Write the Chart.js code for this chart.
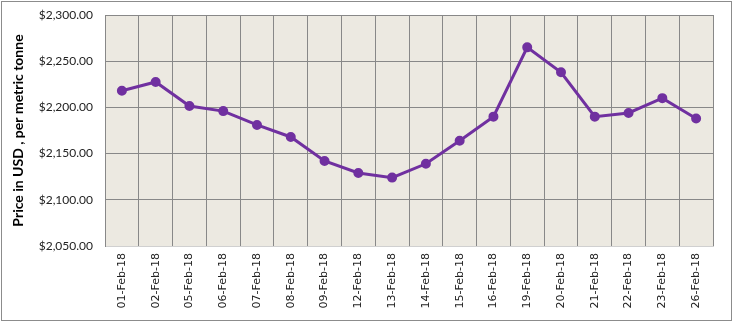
<!DOCTYPE html>
<html>
<head>
<meta charset="utf-8">
<script src="https://cdn.jsdelivr.net/npm/chart.js@4/dist/chart.umd.min.js"></script>
<style>
  html, body { margin: 0; padding: 0; background: #ffffff; }
  #wrap { position: relative; width: 733px; height: 322px; }
</style>
</head>
<body>
<div id="wrap"><canvas id="c" width="733" height="322"></canvas></div>
<script>
const categories = ["01-Feb-18","02-Feb-18","05-Feb-18","06-Feb-18","07-Feb-18","08-Feb-18","09-Feb-18","12-Feb-18","13-Feb-18","14-Feb-18","15-Feb-18","16-Feb-18","19-Feb-18","20-Feb-18","21-Feb-18","22-Feb-18","23-Feb-18","26-Feb-18"];
const prices = [2218, 2227.5, 2201.5, 2196, 2181, 2168, 2142, 2129, 2124, 2139, 2164, 2190, 2265, 2238, 2190, 2194, 2210, 2188];
const yMin = 2050, yMax = 2300, yStep = 50;
const yTitle = "Price in USD , per metric tonne";

const bgPlugin = {
  id: 'bg',
  beforeDraw(chart) {
    const {ctx, chartArea: a} = chart;
    ctx.save();
    ctx.fillStyle = '#ECE9E1';
    ctx.fillRect(a.left, a.top, a.right - a.left, a.bottom - a.top);
    ctx.restore();
  },
  afterDraw(chart) {
    const ctx = chart.ctx;
    ctx.save();
    ctx.strokeStyle = '#8c8c8c';
    ctx.lineWidth = 1;
    ctx.strokeRect(1.5, 1.5, chart.width - 3, chart.height - 3);
    ctx.restore();
  }
};

new Chart(document.getElementById('c'), {
  type: 'line',
  data: {
    labels: categories,
    datasets: [{
      data: prices,
      borderColor: '#7030A0',
      backgroundColor: '#7030A0',
      borderWidth: 3,
      pointRadius: 3.5,
      pointBackgroundColor: '#7030A0',
      pointBorderColor: '#7030A0',
      tension: 0
    }]
  },
  options: {
    responsive: false,
    animation: false,
    layout: { padding: { left: 0, right: 20, top: 15, bottom: 0 } },
    plugins: { legend: { display: false }, tooltip: { enabled: false } },
    scales: {
      x: {
        offset: true,
        grid: { offset: true, color: '#888888', drawTicks: false, lineWidth: 1 },
        border: { color: '#d0d0d0' },
        ticks: {
          minRotation: 90, maxRotation: 90, autoSkip: false, padding: 7,
          color: '#222222',
          font: { family: 'DejaVu Sans', size: 11 }
        },
        afterFit(scale) { scale.height = 76; }
      },
      y: {
        min: yMin, max: yMax,
        grid: { color: '#888888', drawTicks: false },
        border: { color: '#888888' },
        ticks: {
          stepSize: yStep, padding: 12, color: '#222222',
          font: { family: 'Lato', size: 12 },
          callback: v => '$' + Number(v).toLocaleString('en-US', {minimumFractionDigits: 2, maximumFractionDigits: 2})
        },
        title: {
          display: true, text: yTitle, color: '#000000',
          font: { family: 'Lato', size: 14, weight: 'bold' },
          padding: { top: 10, bottom: 0 }
        },
        afterFit(scale) { scale.width = 105; scale.paddingTop = 7; scale.paddingBottom = 7; }
      }
    }
  },
  plugins: [bgPlugin]
});
</script>
</body>
</html>
